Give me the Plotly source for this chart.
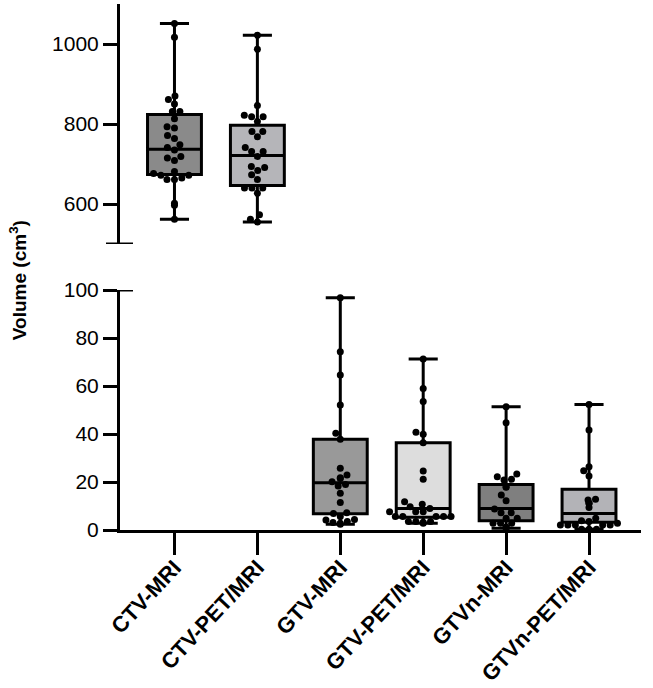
import numpy as np
import plotly.graph_objects as go

categories = ["CTV-MRI", "CTV-PET/MRI", "GTV-MRI", "GTV-PET/MRI", "GTVn-MRI", "GTVn-PET/MRI"]

ctv_mri = [1051, 1017, 870, 861, 850, 831, 831, 813, 793, 790, 771, 764, 748, 741, 735,
           719, 715, 709, 681, 676, 672, 672, 665, 661, 661, 602, 597, 562]
ctv_petmri = [1022, 987, 846, 822, 818, 818, 806, 781, 781, 768, 741, 731, 731, 719, 694,
              684, 691, 673, 661, 640, 640, 640, 627, 573, 562, 555]
gtv_mri = [96.8, 74.3, 64.6, 52.1, 40.3, 37.8, 25.7, 22.9, 21.8, 21.5, 20.1, 19.0, 18.3,
           15.3, 11.5, 7.2, 6.9, 5.6, 4.4, 4.2, 3.5, 3.1, 2.8, 2.4]
gtv_petmri = [71.2, 59.0, 53.5, 40.7, 39.9, 36.4, 24.6, 21.1, 11.8, 10.7, 9.7, 9.0, 7.6,
              7.6, 7.6, 5.6, 5.6, 5.6, 5.6, 5.6, 3.5, 3.5, 3.5, 3.2, 2.8]
gtvn_mri = [51.4, 44.7, 23.3, 22.2, 21.1, 20.8, 18.0, 17.8, 14.6, 12.2, 8.75, 7.2, 7.2,
            4.9, 4.9, 2.8, 2.8, 2.8, 1.1, 1.1, 1.1, 0.7]
gtvn_petmri = [52.3, 41.7, 26.4, 24.7, 22.5, 12.8, 12.5, 11.1, 11.1, 9.4, 4.9, 3.9, 3.5,
               2.8, 2.1, 2.1, 2.1, 2.1, 2.1, 0.3, 0.3, 0.3]

q1 = [674, 646, 6.8, 5.3, 3.9, 3.2]
median = [737, 721, 19.7, 9.0, 9.0, 6.9]
q3 = [824, 797, 37.8, 36.4, 19.0, 17.0]
lower = [562, 555, 2.4, 2.8, 0.7, 0.3]
upper = [1051, 1022, 96.8, 71.2, 51.4, 52.3]

fills = ["#8a8a8a", "#b5b5b9", "#999999", "#dddddd", "#7f7f7f", "#b3b3b7"]

series = [ctv_mri, ctv_petmri, gtv_mri, gtv_petmri, gtvn_mri, gtvn_petmri]
panel = ["top", "top", "bottom", "bottom", "bottom", "bottom"]

# layout constants
W, H = 653, 688
ML, MR, MT, MB = 120, 12, 4, 158
plot_w = W - ML - MR
plot_h = H - MT - MB
x_range = [-0.657, 5.627]
top_range = [500, 1100]
bot_range = [0, 100]
panel_px = 240
bot_dom = [0, panel_px / plot_h]
top_dom = [1 - panel_px / plot_h, 1]
px_x = plot_w / (x_range[1] - x_range[0])
px_y = {"top": panel_px / (top_range[1] - top_range[0]),
        "bottom": panel_px / (bot_range[1] - bot_range[0])}


def swarm(vals, sy, sx, d=7.5):
    vals = np.asarray(vals, float)
    order = np.argsort(vals)
    placed = []
    offs = np.zeros(len(vals))
    for i in order:
        y = vals[i] * sy
        cands = [0.0]
        for (px, py) in placed:
            dy = abs(py - y)
            if dy < d:
                dx = np.sqrt(d * d - dy * dy)
                cands += [px + dx, px - dx]
        cands = sorted(set(round(c, 6) for c in cands), key=lambda c: (abs(c), c))
        for c in cands:
            if all((c - px) ** 2 + (y - py) ** 2 >= d * d - 1e-6 for (px, py) in placed):
                offs[i] = c
                placed.append((c, y))
                break
    return offs / sx


fig = go.Figure()
for i, name in enumerate(categories):
    ya = "y2" if panel[i] == "top" else "y"
    fig.add_trace(go.Box(
        x=[i], q1=[q1[i]], median=[median[i]], q3=[q3[i]],
        lowerfence=[lower[i]], upperfence=[upper[i]],
        width=0.65, whiskerwidth=0.54, boxpoints=False,
        fillcolor=fills[i], line=dict(color="black", width=3),
        yaxis=ya, xaxis="x", showlegend=False, name=name,
    ))
    offs = swarm(series[i], px_y[panel[i]], px_x)
    fig.add_trace(go.Scatter(
        x=i + offs, y=series[i], mode="markers",
        marker=dict(color="black", size=7),
        yaxis=ya, xaxis="x", showlegend=False, cliponaxis=False,
    ))

font = "Liberation Sans, Arial, sans-serif"
fig.update_layout(
    width=W, height=H,
    margin=dict(l=ML, r=MR, t=MT, b=MB, autoexpand=False),
    plot_bgcolor="white", paper_bgcolor="white",
    font=dict(family=font, color="black"),
    xaxis=dict(range=x_range, tickmode="array", tickvals=list(range(len(categories))),
               ticktext=["<b>%s</b>" % c for c in categories], tickangle=-47,
               ticks="outside", ticklen=22, tickwidth=3, tickcolor="black",
               showline=True, linewidth=3, linecolor="black", showgrid=False,
               zeroline=False, anchor="y", automargin=False, ticklabelstandoff=-9,
               tickfont=dict(size=22, family=font)),
    yaxis=dict(domain=bot_dom, range=bot_range, tickvals=[0, 20, 40, 60, 80, 100],
               ticks="outside", ticklen=14, tickwidth=3, tickcolor="black",
               showline=True, linewidth=3, linecolor="black", showgrid=False,
               zeroline=False, anchor="x", automargin=False,
               tickfont=dict(size=21, family=font)),
    yaxis2=dict(domain=top_dom, range=top_range, tickvals=[600, 800, 1000],
                ticks="outside", ticklen=14, tickwidth=3, tickcolor="black",
                showline=True, linewidth=3, linecolor="black", showgrid=False,
                zeroline=False, anchor="x", automargin=False,
                tickfont=dict(size=21, family=font)),
)

# axis end caps
for yref, yv in [("y2", top_range[0]), ("y", bot_range[1])]:
    fig.add_shape(type="line", xref="paper", yref=yref, xsizemode="pixel", xanchor=0,
                  x0=-14, x1=13, y0=yv, y1=yv, line=dict(color="black", width=3))

fig.add_annotation(text="<b>Volume (cm<sup>3</sup>)</b>", xref="paper", yref="paper",
                   x=(18 - ML) / plot_w, y=0.475, textangle=-90, showarrow=False,
                   xanchor="center", yanchor="middle", font=dict(size=19, family=font))

fig.write_html("out.html")
